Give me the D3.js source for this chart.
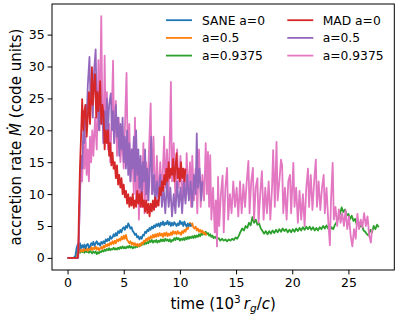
<!DOCTYPE html>
<html>
<head>
<meta charset="utf-8">
<script src="https://cdn.jsdelivr.net/npm/d3@7"></script>
<style>
  html, body { margin: 0; padding: 0; background: #fff; }
  text { font-family: "DejaVu Sans", sans-serif; fill: #000; }
</style>
</head>
<body>
<div id="chart-container"></div>
<script>
// [time (10^3 rg/c), accretion rate]
const saneA0 = [[0,0],[0.5,0],[0.6,0.1],[0.7,0.3],[0.8,1.5],[0.9,2.1],[1.0,1.2],[1.1,2.3],[1.2,1.5],[1.3,2.0],[1.4,1.6],[1.5,2.1],[1.6,1.5],[1.7,2.0],[1.8,2.2],[1.9,1.6],[2.0,1.8],[2.1,2.3],[2.2,2.0],[2.3,2.5],[2.4,1.9],[2.5,2.3],[2.6,2.6],[2.7,2.1],[2.8,2.3],[2.9,1.9],[3.0,2.5],[3.1,2.2],[3.2,2.6],[3.3,2.3],[3.4,2.9],[3.5,2.6],[3.6,3.0],[3.7,2.7],[3.8,3.4],[3.9,3.0],[4.0,3.2],[4.1,3.7],[4.2,3.4],[4.3,3.9],[4.4,3.5],[4.5,4.2],[4.6,3.9],[4.7,4.4],[4.8,4.0],[4.9,4.6],[5.0,4.8],[5.1,4.4],[5.2,5.0],[5.3,4.7],[5.4,5.4],[5.5,5.0],[5.6,4.6],[5.7,4.8],[5.8,4.2],[5.9,4.0],[6.0,3.6],[6.1,3.8],[6.2,3.2],[6.3,3.4],[6.4,2.9],[6.5,3.3],[6.6,3.0],[6.7,3.6],[6.8,3.5],[6.9,4.1],[7.0,3.9],[7.1,4.4],[7.2,4.2],[7.3,4.7],[7.4,4.4],[7.5,4.9],[7.6,4.6],[7.7,5.1],[7.8,4.8],[7.9,5.3],[8.0,5.0],[8.1,5.4],[8.2,4.9],[8.3,5.5],[8.4,5.2],[8.5,5.7],[8.6,5.1],[8.7,5.5],[8.8,5.3],[8.9,5.8],[9.0,5.2],[9.1,5.6],[9.2,5.0],[9.3,5.5],[9.4,5.1],[9.5,5.6],[9.6,5.3],[9.7,5.0],[9.8,5.4],[9.9,5.1],[10.0,5.8],[10.1,5.3],[10.2,5.6],[10.3,5.0],[10.4,5.7],[10.5,5.2],[10.6,4.9],[10.7,5.4],[10.8,5.0],[10.9,5.3],[11.0,4.9]];

const saneA05 = [[0,0],[0.6,0],[0.7,0.2],[0.8,0.6],[0.9,1.2],[1.0,0.9],[1.1,1.4],[1.2,1.0],[1.3,1.3],[1.4,1.0],[1.5,1.6],[1.6,1.2],[1.7,1.5],[1.8,1.1],[1.9,1.6],[2.0,1.3],[2.1,1.7],[2.2,1.2],[2.3,1.6],[2.4,1.4],[2.5,1.8],[2.6,1.3],[2.7,1.6],[2.8,1.2],[2.9,1.5],[3.0,1.7],[3.1,1.4],[3.2,1.9],[3.3,1.6],[3.4,2.1],[3.5,1.8],[3.6,2.2],[3.7,1.9],[3.8,2.4],[3.9,2.1],[4.0,2.6],[4.1,2.2],[4.2,2.7],[4.3,2.3],[4.4,2.9],[4.5,2.6],[4.6,3.0],[4.7,2.7],[4.8,3.3],[4.9,2.9],[5.0,3.5],[5.1,3.0],[5.2,3.6],[5.3,2.8],[5.4,2.6],[5.5,2.3],[5.6,2.6],[5.7,2.1],[5.8,2.4],[5.9,2.0],[6.0,2.3],[6.1,1.9],[6.2,2.2],[6.3,1.8],[6.4,2.2],[6.5,1.9],[6.6,2.4],[6.7,2.2],[6.8,2.7],[6.9,2.5],[7.0,3.0],[7.1,2.7],[7.2,3.2],[7.3,2.9],[7.4,3.4],[7.5,3.1],[7.6,3.6],[7.7,3.2],[7.8,3.7],[7.9,3.3],[8.0,3.8],[8.1,3.4],[8.2,3.9],[8.3,3.5],[8.4,3.8],[8.5,3.3],[8.6,3.9],[8.7,3.5],[8.8,4.0],[8.9,3.4],[9.0,3.8],[9.1,3.5],[9.2,4.0],[9.3,3.6],[9.4,4.2],[9.5,3.8],[9.6,4.1],[9.7,3.7],[9.8,4.2],[9.9,3.8],[10.0,4.0],[10.1,3.6],[10.2,4.2],[10.3,3.9],[10.4,4.4],[10.5,4.1],[10.6,4.7],[10.7,4.5],[10.8,5.1],[10.9,5.5],[11.0,5.0],[11.1,5.4],[11.2,4.8],[11.3,4.6],[11.4,4.9],[11.5,4.3],[11.6,4.6],[11.7,4.1],[11.8,4.4],[11.9,4.0],[12.0,4.3],[12.1,3.8],[12.2,4.0],[12.3,3.6],[12.4,3.8]];

const saneA09375 = [[0,0],[0.6,0],[0.7,0.2],[0.8,0.5],[0.9,0.9],[1.0,1.1],[1.1,0.8],[1.2,1.2],[1.3,0.9],[1.4,1.1],[1.5,0.8],[1.6,1.2],[1.7,0.9],[1.8,1.1],[1.9,0.8],[2.0,1.1],[2.1,0.9],[2.2,0.7],[2.3,1.0],[2.4,0.8],[2.5,1.0],[2.6,0.6],[2.7,0.9],[2.8,0.7],[2.9,1.0],[3.0,0.9],[3.1,1.2],[3.2,1.0],[3.3,1.3],[3.4,1.1],[3.5,1.4],[3.6,1.2],[3.7,1.5],[3.8,1.2],[3.9,1.4],[4.0,1.3],[4.1,1.6],[4.2,1.3],[4.3,1.5],[4.4,1.3],[4.5,1.6],[4.6,1.4],[4.7,1.7],[4.8,1.5],[4.9,1.8],[5.0,1.5],[5.1,1.7],[5.2,1.5],[5.3,1.8],[5.4,1.6],[5.5,1.9],[5.6,1.6],[5.7,1.8],[5.8,1.5],[5.9,1.7],[6.0,1.6],[6.1,1.9],[6.2,1.7],[6.3,2.0],[6.4,1.8],[6.5,2.2],[6.6,2.0],[6.7,2.3],[6.8,2.1],[6.9,2.4],[7.0,2.2],[7.1,2.5],[7.2,2.3],[7.3,2.7],[7.4,2.5],[7.5,2.8],[7.6,2.4],[7.7,2.7],[7.8,2.5],[7.9,2.8],[8.0,2.4],[8.1,2.7],[8.2,2.5],[8.3,2.9],[8.4,2.6],[8.5,2.9],[8.6,2.6],[8.7,3.0],[8.8,2.7],[8.9,2.9],[9.0,2.6],[9.1,2.9],[9.2,2.5],[9.3,2.8],[9.4,2.7],[9.5,3.1],[9.6,2.8],[9.7,3.2],[9.8,2.9],[9.9,3.1],[10.0,2.7],[10.1,3.0],[10.2,2.8],[10.3,3.1],[10.4,2.8],[10.5,3.2],[10.6,2.9],[10.7,3.3],[10.8,3.0],[10.9,3.3],[11.0,3.1],[11.1,3.4],[11.2,3.1],[11.3,3.5],[11.4,3.2],[11.5,3.5],[11.6,3.3],[11.7,3.7],[11.8,3.4],[11.9,3.8],[12.0,3.6],[12.1,4.0],[12.2,3.7],[12.3,4.1],[12.4,3.7],[12.5,3.9],[12.6,3.5],[12.7,3.7],[12.8,3.3],[12.9,3.5],[13.0,3.1],[13.15,3.3],[13.3,2.9],[13.45,3.1],[13.6,2.7],[13.75,3.0],[13.9,2.7],[14.05,2.9],[14.2,2.6],[14.35,2.9],[14.5,2.7],[14.65,3.0],[14.8,2.8],[14.95,3.2],[15.1,3.0],[15.25,3.5],[15.4,4.1],[15.55,4.6],[15.7,4.3],[15.85,5.0],[16.0,4.7],[16.15,5.5],[16.3,5.1],[16.45,6.4],[16.6,5.5],[16.75,6.0],[16.9,5.2],[17.05,5.4],[17.2,4.6],[17.35,4.2],[17.5,3.8],[17.65,4.2],[17.8,3.7],[17.95,4.2],[18.1,3.8],[18.25,4.3],[18.4,3.9],[18.55,4.4],[18.7,4.0],[18.85,4.5],[19.0,4.1],[19.15,4.6],[19.3,4.2],[19.45,4.5],[19.6,4.0],[19.75,4.4],[19.9,4.0],[20.05,4.5],[20.2,4.1],[20.35,4.6],[20.5,4.2],[20.65,4.7],[20.8,4.3],[20.95,4.8],[21.1,4.4],[21.25,4.9],[21.4,4.5],[21.55,4.9],[21.7,4.4],[21.85,4.8],[22.0,4.3],[22.15,4.7],[22.3,4.3],[22.45,4.8],[22.6,4.5],[22.75,5.0],[22.9,4.6],[23.05,5.1],[23.2,4.6],[23.35,4.3],[23.5,4.8],[23.65,4.5],[23.8,5.2],[23.95,5.6],[24.1,6.2],[24.25,6.9],[24.4,7.9],[24.55,7.2],[24.7,7.6],[24.85,6.6],[25.0,6.9],[25.15,6.1],[25.3,6.6],[25.45,5.8],[25.6,6.1],[25.75,5.2],[25.9,5.6],[26.05,4.9],[26.2,5.1],[26.35,4.3],[26.5,4.1],[26.65,3.7],[26.8,3.5],[26.95,4.4],[27.1,4.0],[27.25,5.0],[27.4,4.5],[27.55,5.2],[27.7,4.8]];

const madA0 = [[0,0],[0.9,0],[0.95,1],[1.0,6],[1.1,14],[1.2,19],[1.3,24.9],[1.4,20],[1.5,23],[1.6,24],[1.7,19],[1.8,22],[1.9,26],[2.0,21],[2.1,25],[2.17,29.9],[2.25,24],[2.35,27],[2.45,28.8],[2.55,22],[2.65,26],[2.75,23],[2.85,26],[2.9,27.7],[3.0,21],[3.1,24],[3.2,22.5],[3.3,17],[3.4,20],[3.5,18],[3.6,20],[3.7,16],[3.8,18],[3.9,14.5],[4.0,16.5],[4.1,14],[4.2,15],[4.3,12.5],[4.4,14.5],[4.5,11.5],[4.6,13],[4.7,11],[4.8,12.5],[4.9,10],[5.0,11.5],[5.1,9.5],[5.2,10.5],[5.3,8.5],[5.4,10],[5.5,8],[5.6,9.5],[5.7,8.2],[5.8,10],[5.9,7.8],[6.0,9],[6.1,8],[6.2,10.5],[6.3,8.5],[6.4,10],[6.5,8],[6.6,10.3],[6.7,8],[6.8,9],[6.9,7.2],[7.0,9],[7.1,7],[7.2,8.5],[7.3,6.5],[7.4,8.5],[7.5,7.3],[7.6,9],[7.7,7.5],[7.8,9.5],[7.9,8],[8.0,9],[8.1,8.2],[8.2,11],[8.3,9.8],[8.4,12],[8.5,10.5],[8.6,13],[8.7,11.5],[8.8,14],[8.9,12],[9.0,15],[9.1,12.5],[9.2,14],[9.3,13],[9.4,15.5],[9.5,12],[9.6,14],[9.7,16.4],[9.8,12.5],[9.9,14],[10.0,12],[10.1,15],[10.2,12.5],[10.3,14],[10.4,12],[10.5,14]];

const madA05 = [[0,0],[0.95,0],[1.0,3],[1.1,10],[1.2,16],[1.3,14],[1.4,20],[1.5,18],[1.6,24],[1.7,21],[1.8,27],[1.95,31.5],[2.05,24],[2.15,27],[2.25,22],[2.35,29],[2.5,32.7],[2.6,23],[2.7,26],[2.8,20],[2.9,27],[3.0,21],[3.1,24],[3.2,18],[3.3,23],[3.4,19],[3.5,25],[3.6,20],[3.7,24],[3.85,25.8],[3.95,20],[4.05,23],[4.15,18],[4.3,24],[4.4,19],[4.5,22],[4.6,16],[4.7,21],[4.8,17],[4.9,22],[5.0,15],[5.1,19],[5.2,14],[5.3,20],[5.4,13],[5.5,18],[5.6,12],[5.7,17],[5.8,14],[5.9,19],[6.0,12],[6.1,20],[6.2,13],[6.3,17],[6.4,11],[6.5,16],[6.6,10],[6.7,15],[6.8,12],[6.9,17],[7.0,10],[7.1,14],[7.2,9],[7.3,13],[7.45,19],[7.55,10],[7.7,13],[7.8,8],[7.95,12],[8.1,9],[8.25,13],[8.4,8],[8.55,11],[8.7,7],[8.85,12],[9.0,8],[9.15,11],[9.3,6.5],[9.45,10],[9.6,7],[9.75,12],[9.9,8],[10.05,11],[10.2,7],[10.35,12],[10.5,8.5],[10.65,13],[10.8,9],[10.95,12],[11.1,8],[11.25,13],[11.4,10],[11.5,19.5],[11.6,11],[11.75,14],[11.9,9],[12.0,12]];

const madA09375 = [[0,0],[0.9,0],[1.0,3],[1.1,9],[1.2,15],[1.3,12],[1.4,18],[1.5,14],[1.6,19],[1.7,13],[1.8,17],[1.9,12],[2.0,19],[2.1,15],[2.2,20],[2.3,16],[2.45,22],[2.6,17],[2.75,31],[2.85,20],[3.0,37.9],[3.1,22],[3.2,18],[3.3,31.7],[3.4,19],[3.5,26],[3.6,17],[3.7,21],[3.8,15],[3.9,20],[4.05,30.9],[4.15,18],[4.3,24.6],[4.4,16],[4.55,22],[4.7,15],[4.85,19],[5.0,14],[5.1,20],[5.25,29],[5.35,17],[5.5,21],[5.6,12],[5.75,17],[5.9,10],[6.0,22],[6.1,9],[6.25,16],[6.35,6],[6.5,14],[6.6,8],[6.75,18],[6.85,7],[7.0,15],[7.1,9],[7.25,17],[7.4,24.2],[7.5,10],[7.65,19],[7.8,8],[7.95,16],[8.1,9],[8.25,15],[8.4,10],[8.6,19],[8.7,11],[8.85,17],[9.0,10],[9.2,27.6],[9.3,12],[9.45,18],[9.6,9],[9.75,17],[9.9,11],[10.05,16],[10.2,8],[10.35,14],[10.5,9],[10.6,16.4],[10.75,10],[10.9,15],[11.0,8],[11.1,16],[11.25,9],[11.4,14],[11.55,7],[11.7,17],[11.85,8],[12.0,13],[12.15,9],[12.3,18],[12.4,10],[12.5,16.6],[12.6,8],[12.7,16.1],[12.8,6],[12.95,11],[13.1,4],[13.2,9],[13.3,1.8],[13.4,12.7],[13.5,5],[13.65,10],[13.8,12.9],[13.9,4],[14.05,11],[14.2,14.1],[14.3,6],[14.45,10],[14.6,7],[14.75,12],[14.9,8],[15.05,11],[15.2,6.5],[15.35,12],[15.5,7],[15.65,11.5],[15.8,8],[15.95,12],[16.1,15.2],[16.2,7],[16.35,12],[16.5,14.1],[16.6,6],[16.75,11],[16.9,12.5],[17.0,5.5],[17.15,10],[17.3,13.6],[17.45,6],[17.6,11],[17.75,7],[17.9,12],[18.05,6],[18.2,11],[18.3,16.9],[18.45,8],[18.6,18.2],[18.7,9],[18.85,12],[19.0,15.4],[19.1,14.5],[19.2,7],[19.35,11],[19.5,6],[19.65,12],[19.8,13],[19.9,7],[20.1,14.9],[20.2,8],[20.35,11],[20.5,5.5],[20.65,10.5],[20.8,6],[20.95,10],[21.1,5],[21.25,11],[21.4,14],[21.5,8],[21.65,13],[21.8,7.5],[21.95,12],[22.1,15.4],[22.2,8],[22.35,12],[22.5,7.5],[22.65,11],[22.8,13],[22.9,7],[23.05,11],[23.2,6],[23.35,2],[23.45,9],[23.6,14.9],[23.7,6],[23.85,8],[24.0,5],[24.15,7.6],[24.3,5.5],[24.45,7],[24.6,5],[24.75,7.5],[24.9,4.5],[25.05,6.5],[25.2,3.5],[25.35,1.8],[25.5,4.5],[25.65,3],[25.8,6.9],[25.95,4.5],[26.1,6],[26.25,4.8],[26.4,7],[26.55,5],[26.7,6.5],[26.85,3.5],[27.0,2.4],[27.1,4.5]];

const xTicks = [0, 5, 10, 15, 20, 25];
const yTicks = [0, 5, 10, 15, 20, 25, 30, 35];

// legend entries, column-major like matplotlib ncol=2
const legendCol1 = [
  { label: "SANE a=0", color: "#1f77b4" },
  { label: "a=0.5", color: "#ff7f0e" },
  { label: "a=0.9375", color: "#2ca02c" }
];
const legendCol2 = [
  { label: "MAD a=0", color: "#d62728" },
  { label: "a=0.5", color: "#9467bd" },
  { label: "a=0.9375", color: "#e377c2" }
];

// draw order (last on top)
const series = [
  { data: saneA09375, color: "#2ca02c" },
  { data: saneA05, color: "#ff7f0e" },
  { data: saneA0, color: "#1f77b4" },
  { data: madA09375, color: "#e377c2" },
  { data: madA05, color: "#9467bd" },
  { data: madA0, color: "#d62728" }
];

let width = 399;
let height = 319;
let plot = { left: 52, right: 394.3, top: 4, bottom: 270 };

var svg = d3
  .select("#chart-container")
  .append("svg")
  .attr("width", width)
  .attr("height", height);

let xScale = d3.scaleLinear().domain([-1.385, 29.085]).range([plot.left, plot.right]);
let yScale = d3.scaleLinear().domain([-1.9, 39.8]).range([plot.bottom, plot.top]);

svg.append("defs").append("clipPath").attr("id", "clip")
  .append("rect")
  .attr("x", plot.left).attr("y", plot.top)
  .attr("width", plot.right - plot.left).attr("height", plot.bottom - plot.top);

let line = d3.line()
  .x((d) => xScale(d[0]))
  .y((d) => yScale(d[1]));

svg.append("g")
  .attr("clip-path", "url(#clip)")
  .selectAll("path")
  .data(series)
  .enter()
  .append("path")
  .attr("d", (d) => line(d.data))
  .attr("fill", "none")
  .attr("stroke", (d) => d.color)
  .attr("stroke-width", 1.8)
  .attr("stroke-linejoin", "round");

// axes
let xAxis = svg.append("g")
  .attr("transform", `translate(0, ${plot.bottom})`)
  .call(d3.axisBottom(xScale).tickValues(xTicks).tickSize(4.4).tickPadding(4).tickFormat((d) => d));
let yAxis = svg.append("g")
  .attr("transform", `translate(${plot.left}, 0)`)
  .call(d3.axisLeft(yScale).tickValues(yTicks).tickSize(4.4).tickPadding(3).tickFormat((d) => d));

[xAxis, yAxis].forEach((ax) => {
  ax.select(".domain").remove();
  ax.selectAll(".tick line").attr("stroke", "#000").attr("stroke-width", 1);
  ax.selectAll(".tick text")
    .style("font-family", "DejaVu Sans")
    .style("font-size", "12.5px")
    .attr("fill", "#000");
});

// spines
svg.append("rect")
  .attr("x", plot.left).attr("y", plot.top)
  .attr("width", plot.right - plot.left).attr("height", plot.bottom - plot.top)
  .attr("fill", "none").attr("stroke", "#000").attr("stroke-width", 1);

// x label
let xl = svg.append("text")
  .attr("x", (plot.left + plot.right) / 2)
  .attr("y", 308.5)
  .attr("text-anchor", "middle")
  .style("font-size", "15px");
xl.append("tspan").text("time (10");
xl.append("tspan").attr("dy", -6).style("font-size", "10.5px").text("3");
xl.append("tspan").attr("dy", 6).text("\u2009");
xl.append("tspan").style("font-style", "italic").text("r");
xl.append("tspan").attr("dy", 3).style("font-size", "10.5px").style("font-style", "italic").text("g");
xl.append("tspan").attr("dy", -3).text("/");
xl.append("tspan").style("font-style", "italic").text("c");
xl.append("tspan").text(")");

// y label
let yl = svg.append("text")
  .attr("transform", `translate(21, ${(plot.top + plot.bottom) / 2}) rotate(-90)`)
  .attr("text-anchor", "middle")
  .style("font-size", "15px");
yl.append("tspan").text("accretion rate ");
yl.append("tspan").style("font-style", "italic").text("\u1E40");
yl.append("tspan").text(" (code units)");

// legend
function drawLegendColumn(entries, x0, tx) {
  let g = svg.append("g");
  entries.forEach((e, i) => {
    let cy = 20.2 + i * 17.7;
    g.append("line")
      .attr("x1", x0).attr("x2", x0 + 26)
      .attr("y1", cy).attr("y2", cy)
      .attr("stroke", e.color).attr("stroke-width", 1.8);
    g.append("text")
      .attr("x", tx).attr("y", cy + 4.5)
      .style("font-size", "12.3px")
      .text(e.label);
  });
}
drawLegendColumn(legendCol1, 166, 202);
drawLegendColumn(legendCol2, 287.3, 322.7);
</script>
</body>
</html>
